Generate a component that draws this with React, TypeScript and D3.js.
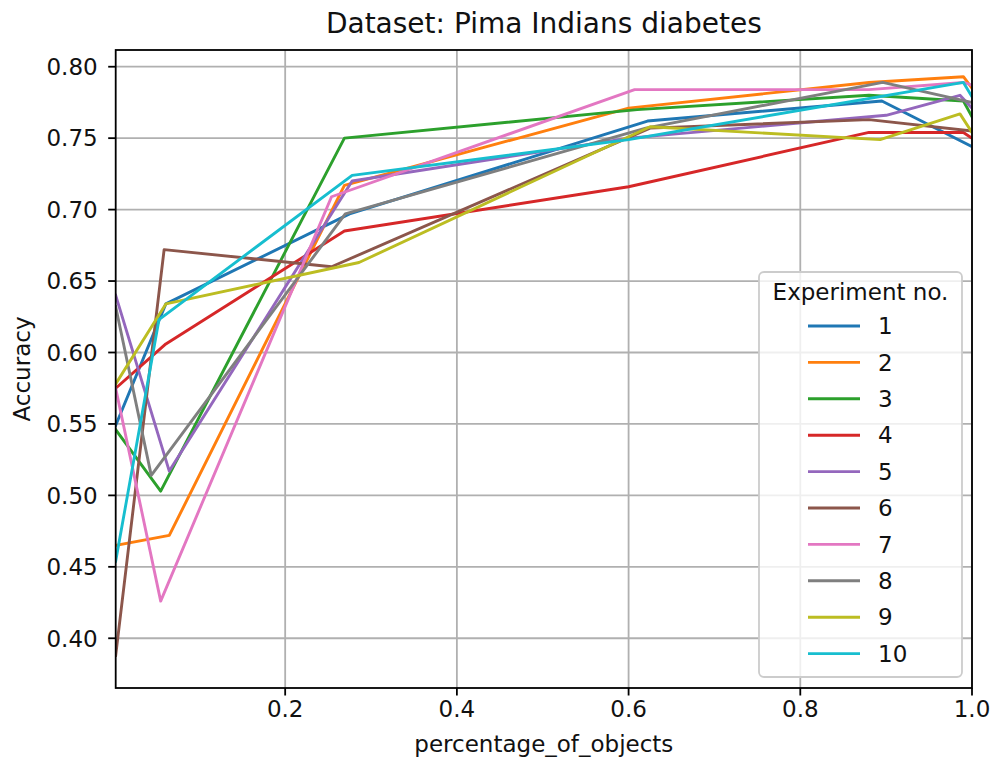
import React from "react";
import * as d3 from "d3";

const experiments = ["1", "2", "3", "4", "5", "6", "7", "8", "9", "10"];
const colors = ["#1f77b4", "#ff7f0e", "#2ca02c", "#d62728", "#9467bd", "#8c564b", "#e377c2", "#7f7f7f", "#bcbd22", "#17becf"];

const xs1 = [0.0026, 0.061, 0.275, 0.622, 0.895, 1.0];
const ys1 = [0.549, 0.634, 0.697, 0.762, 0.776, 0.744];
const xs2 = [0.0026, 0.065, 0.269, 0.6, 0.88, 0.99, 1.0];
const ys2 = [0.465, 0.472, 0.717, 0.771, 0.789, 0.793, 0.785];
const xs3 = [0.0026, 0.055, 0.269, 0.61, 0.88, 0.99, 1.0];
const ys3 = [0.546, 0.503, 0.75, 0.77, 0.78, 0.776, 0.765];
const xs4 = [0.0026, 0.061, 0.269, 0.6, 0.88, 0.99, 1.0];
const ys4 = [0.575, 0.606, 0.685, 0.716, 0.754, 0.754, 0.75];
const xs5 = [0.0026, 0.065, 0.278, 0.6, 0.9, 0.986, 1.0];
const ys5 = [0.64, 0.517, 0.72, 0.75, 0.766, 0.78, 0.771];
const xs6 = [0.0026, 0.059, 0.254, 0.625, 0.88, 1.0];
const ys6 = [0.388, 0.672, 0.66, 0.757, 0.763, 0.755];
const xs7 = [0.0026, 0.055, 0.254, 0.607, 0.88, 0.99, 1.0];
const ys7 = [0.575, 0.426, 0.709, 0.784, 0.784, 0.789, 0.787];
const xs8 = [0.0026, 0.044, 0.27, 0.62, 0.896, 1.0];
const ys8 = [0.632, 0.514, 0.697, 0.757, 0.789, 0.775];
const xs9 = [0.0026, 0.061, 0.286, 0.625, 0.893, 0.986, 1.0];
const ys9 = [0.578, 0.634, 0.663, 0.758, 0.749, 0.767, 0.754];
const xs10 = [0.0026, 0.053, 0.278, 0.6, 0.99, 1.0];
const ys10 = [0.454, 0.623, 0.724, 0.749, 0.789, 0.779];

const seriesX = [xs1, xs2, xs3, xs4, xs5, xs6, xs7, xs8, xs9, xs10];
const seriesY = [ys1, ys2, ys3, ys4, ys5, ys6, ys7, ys8, ys9, ys10];

const xTicks = [0.2, 0.4, 0.6, 0.8, 1.0];
const yTicks = [0.4, 0.45, 0.5, 0.55, 0.6, 0.65, 0.7, 0.75, 0.8];

const W = 995, H = 767;
const L = 115.7, R = 972, T = 50, B = 688;
const FONT = "DejaVu Sans, sans-serif";
const FS = 23;
const TXT = "#111";

export default function App() {
  const x = d3.scaleLinear().domain([0.0026, 1.0]).range([L, R]);
  const y = d3.scaleLinear().domain([0.3652, 0.8117]).range([B, T]);
  const line = d3.line<[number, number]>().x(d => x(d[0])).y(d => y(d[1]));

  const legX = 759, legY = 272, legW = 203, legH = 405;
  return (
    <svg width={W} height={H} style={{ position: "absolute", left: 0, top: 0, background: "#fff" }} fontFamily={FONT}>
      <defs>
        <clipPath id="plotclip"><rect x={L} y={T} width={R - L} height={B - T} /></clipPath>
      </defs>
      <rect x={0} y={0} width={W} height={H} fill="#fff" />
      {xTicks.map(t => (
        <line key={"gx" + t} x1={x(t)} x2={x(t)} y1={T} y2={B} stroke="#b0b0b0" strokeWidth={1.8} />
      ))}
      {yTicks.map(t => (
        <line key={"gy" + t} x1={L} x2={R} y1={y(t)} y2={y(t)} stroke="#b0b0b0" strokeWidth={1.8} />
      ))}
      <g clipPath="url(#plotclip)">
        {seriesX.map((xs, i) => (
          <path key={"s" + i} d={line(xs.map((v, j) => [v, seriesY[i][j]] as [number, number])) || ""}
            fill="none" stroke={colors[i]} strokeWidth={2.9} strokeLinejoin="round" strokeLinecap="square" />
        ))}
      </g>
      <rect x={L} y={T} width={R - L} height={B - T} fill="none" stroke="#000" strokeWidth={1.8} />
      {xTicks.map(t => (
        <g key={"xt" + t}>
          <line x1={x(t)} x2={x(t)} y1={B} y2={B + 7.5} stroke="#000" strokeWidth={1.8} />
          <text x={x(t)} y={B + 12} dy="0.76em" textAnchor="middle" fontSize={FS} fill={TXT}>{t.toFixed(1)}</text>
        </g>
      ))}
      {yTicks.map(t => (
        <g key={"yt" + t}>
          <line x1={L - 7.5} x2={L} y1={y(t)} y2={y(t)} stroke="#000" strokeWidth={1.8} />
          <text x={L - 18} y={y(t)} dy="0.36em" textAnchor="end" fontSize={FS} fill={TXT}>{t.toFixed(2)}</text>
        </g>
      ))}
      <text x={(L + R) / 2} y={33} textAnchor="middle" fontSize={28} fill={TXT}>Dataset: Pima Indians diabetes</text>
      <text x={(L + R) / 2} y={752} textAnchor="middle" fontSize={FS} fill={TXT}>percentage_of_objects</text>
      <text transform={`translate(30, ${(T + B) / 2}) rotate(-90)`} textAnchor="middle" fontSize={FS} fill={TXT}>Accuracy</text>
      <rect x={legX} y={legY} width={legW} height={legH} rx={5} ry={5} fill="#fff" fillOpacity={0.8} stroke="#cccccc" strokeWidth={1.8} />
      <text x={legX + legW / 2} y={292} dy="0.36em" textAnchor="middle" fontSize={FS} fill={TXT}>Experiment no.</text>
      {experiments.map((e, i) => {
        const cy = 326 + i * 36.4;
        return (
          <g key={"lg" + i}>
            <line x1={808} x2={860} y1={cy} y2={cy} stroke={colors[i]} strokeWidth={2.9} />
            <text x={878} y={cy} dy="0.36em" fontSize={FS} fill={TXT}>{e}</text>
          </g>
        );
      })}
    </svg>
  );
}
